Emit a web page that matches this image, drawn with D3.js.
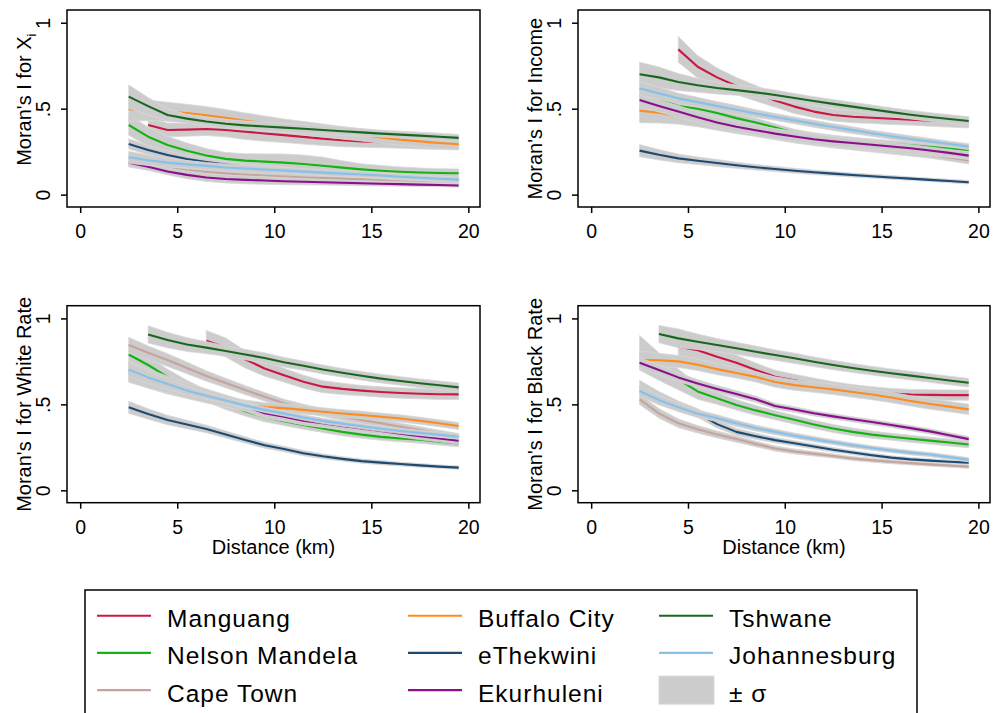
<!DOCTYPE html>
<html>
<head>
<meta charset="utf-8">
<script src="https://cdn.jsdelivr.net/npm/d3@7"></script>
<style>
  html, body { margin: 0; padding: 0; background: #fff; }
  svg { display: block; font-family: "Liberation Sans", Arial, Helvetica, sans-serif; }
</style>
</head>
<body>
<svg id="chart" width="994" height="713"></svg>
<script>
// Distance bands (km) at which Moran's I was computed
const distances = [2.5, 3.5, 4.5, 5.5, 6.5, 7.5, 8.5, 9.5, 10.5, 11.5, 12.5, 13.5, 14.5, 15.5, 16.5, 17.5, 18.5, 19.5];

// Metros, in plotting order (later series are drawn over earlier ones)
const cities = ["Manguang", "Nelson Mandela", "Cape Town", "Buffalo City", "eThekwini", "Ekurhuleni", "Tshwane", "Johannesburg"];

const xTicks = [0, 5, 10, 15, 20];
const yTicks = [0, 0.5, 1];
const yTickLabels = ["0", ".5", "1"];

// Moran's I for X_i: mean and standard deviation per metro (rows follow `cities`)
const xiMean = [
  [null, .405, .376, .378, .382, .376, .366, .356, .346, .336, .326, .316, .31, .305, .30, .296, .293, .29],
  [.405, .337, .289, .255, .228, .208, .198, .192, .186, .178, .168, .157, .147, .139, .133, .129, .126, .124],
  [.19, .17, .155, .142, .132, .123, .116, .11, .105, .10, .097, .093, .09, .087, .084, .081, .078, .075],
  [.497, .49, .482, .475, .462, .447, .43, .415, .40, .386, .373, .36, .347, .333, .32, .31, .30, .293],
  [.295, .26, .23, .207, .19, .175, .163, .152, .143, .134, .126, .119, .112, .106, .10, .095, .09, .085],
  [.185, .162, .135, .115, .10, .091, .086, .082, .078, .075, .072, .069, .066, .063, .061, .058, .056, .053],
  [.57, .515, .463, .442, .425, .412, .403, .396, .39, .383, .376, .369, .362, .355, .349, .343, .337, .33],
  [.217, .20, .186, .176, .167, .158, .152, .146, .14, .134, .128, .122, .117, .111, .104, .098, .092, .087]
];
const xiSd = [
  [null, .04, .04, .038, .038, .04, .045, .045, .043, .042, .04, .037, .034, .032, .03, .03, .03, .03],
  [.06, .055, .05, .045, .04, .037, .04, .045, .05, .052, .05, .04, .032, .03, .028, .026, .025, .025],
  [.03, .028, .025, .022, .02, .02, .02, .02, .02, .02, .02, .02, .02, .02, .02, .02, .02, .02],
  [.07, .06, .055, .05, .05, .048, .045, .043, .04, .04, .038, .036, .035, .034, .033, .032, .032, .032],
  [.03, .027, .024, .022, .02, .018, .017, .016, .015, .015, .015, .015, .014, .014, .014, .014, .014, .014],
  [.02, .02, .02, .022, .023, .023, .023, .022, .02, .018, .016, .015, .014, .013, .012, .011, .01, .01],
  [.068, .05, .035, .025, .025, .025, .025, .025, .025, .025, .025, .025, .022, .02, .02, .02, .02, .02],
  [.035, .03, .025, .022, .02, .02, .02, .02, .018, .018, .018, .017, .017, .016, .016, .015, .015, .015]
];

// Moran's I for income
const incomeMean = [
  [null, null, .845, .744, .682, .632, .59, .548, .512, .483, .463, .453, .447, .441, .436, .43, .425, .42],
  [.58, .555, .516, .50, .475, .445, .42, .39, .36, .34, .326, .314, .304, .295, .287, .278, .268, .26],
  [.53, .50, .465, .435, .41, .385, .362, .342, .323, .306, .292, .28, .268, .256, .244, .232, .216, .198],
  [.488, .477, .455, .43, .405, .383, .365, .345, .325, .31, .298, .287, .277, .266, .255, .244, .232, .22],
  [.256, .232, .211, .197, .184, .171, .159, .149, .139, .13, .122, .114, .107, .10, .093, .086, .079, .072],
  [.55, .516, .483, .45, .42, .395, .375, .355, .338, .322, .31, .30, .29, .28, .27, .257, .243, .227],
  [.70, .682, .655, .636, .62, .608, .595, .58, .562, .545, .528, .512, .496, .48, .465, .452, .44, .428],
  [.618, .589, .56, .538, .516, .494, .472, .452, .432, .412, .393, .375, .357, .34, .324, .309, .294, .279]
];
const incomeSd = [
  [null, null, .075, .065, .055, .05, .045, .04, .04, .035, .035, .035, .033, .033, .032, .032, .032, .032],
  [.04, .035, .03, .028, .025, .025, .025, .022, .02, .02, .02, .02, .02, .02, .02, .02, .02, .02],
  [.04, .035, .03, .028, .025, .025, .022, .022, .02, .02, .02, .02, .02, .02, .02, .02, .02, .02],
  [.07, .06, .045, .035, .03, .028, .026, .025, .024, .023, .022, .022, .021, .02, .018, .016, .015, .015],
  [.035, .03, .025, .022, .02, .018, .016, .015, .014, .013, .012, .012, .011, .011, .01, .01, .01, .01],
  [.04, .035, .035, .03, .03, .03, .03, .03, .03, .03, .03, .025, .025, .022, .02, .02, .02, .02],
  [.07, .06, .05, .04, .035, .03, .03, .028, .026, .025, .025, .025, .025, .025, .025, .025, .025, .025],
  [.04, .035, .03, .028, .025, .025, .022, .02, .02, .02, .02, .02, .018, .018, .018, .018, .017, .017]
];

// Moran's I for the white population rate
const whiteMean = [
  [null, null, null, null, .87, .831, .762, .709, .67, .632, .603, .59, .58, .572, .566, .562, .559, .558],
  [.79, .729, .66, .60, .55, .50, .46, .425, .402, .38, .36, .34, .324, .311, .302, .294, .283, .273],
  [.845, .80, .758, .712, .665, .624, .583, .544, .506, .478, .452, .43, .409, .39, .37, .35, .33, .31],
  [.68, .64, .60, .57, .54, .515, .497, .484, .478, .468, .457, .447, .438, .428, .418, .405, .39, .374],
  [.483, .444, .409, .383, .357, .325, .293, .262, .24, .216, .198, .183, .17, .161, .153, .145, .138, .132],
  [.69, .65, .615, .58, .55, .52, .49, .448, .428, .405, .39, .375, .36, .345, .33, .315, .302, .289],
  [null, .907, .874, .848, .83, .81, .79, .77, .745, .725, .703, .684, .666, .65, .636, .623, .611, .599],
  [.703, .657, .618, .58, .55, .522, .494, .468, .447, .424, .404, .388, .373, .358, .345, .334, .323, .312]
];
const whiteSd = [
  [null, null, null, null, .06, .055, .05, .045, .04, .038, .035, .033, .03, .03, .03, .03, .03, .03],
  [.06, .05, .045, .04, .035, .03, .028, .026, .025, .024, .023, .022, .021, .02, .02, .02, .02, .02],
  [.045, .04, .037, .034, .03, .028, .026, .025, .024, .023, .022, .022, .021, .021, .02, .02, .02, .02],
  [.05, .045, .04, .035, .032, .03, .028, .026, .025, .024, .023, .022, .022, .021, .021, .02, .02, .02],
  [.035, .03, .027, .025, .022, .02, .018, .017, .016, .015, .014, .013, .012, .012, .011, .011, .01, .01],
  [.06, .055, .05, .045, .04, .035, .03, .028, .026, .025, .024, .022, .021, .02, .02, .02, .02, .02],
  [null, .05, .045, .04, .035, .03, .03, .03, .028, .027, .026, .025, .025, .025, .025, .025, .025, .025],
  [.04, .035, .03, .025, .02, .018, .016, .015, .015, .015, .015, .015, .015, .015, .015, .015, .015, .015]
];

// Moran's I for the black population rate
const blackMean = [
  [null, null, .835, .815, .777, .742, .70, .661, .64, .62, .60, .585, .573, .563, .557, .555, .554, .554],
  [.80, .72, .645, .575, .535, .497, .465, .437, .41, .383, .36, .34, .324, .312, .30, .289, .278, .267],
  [.529, .448, .39, .355, .325, .298, .27, .243, .226, .213, .20, .185, .175, .166, .158, .151, .144, .138],
  [.76, .757, .75, .73, .705, .683, .66, .63, .612, .60, .587, .572, .557, .54, .52, .502, .487, .471],
  [.60, .54, .49, .45, .385, .34, .315, .292, .274, .255, .236, .22, .204, .19, .18, .173, .166, .161],
  [.742, .70, .657, .622, .59, .56, .53, .49, .47, .448, .43, .413, .397, .38, .362, .343, .32, .298],
  [null, .909, .884, .864, .845, .826, .806, .787, .768, .748, .729, .712, .696, .681, .667, .653, .639, .626],
  [.578, .525, .483, .445, .42, .39, .362, .34, .318, .298, .28, .262, .246, .232, .219, .208, .193, .178]
];
const blackSd = [
  [null, null, .06, .055, .05, .045, .04, .038, .035, .033, .032, .03, .03, .03, .03, .03, .03, .03],
  [.10, .08, .06, .045, .035, .03, .028, .026, .025, .024, .023, .022, .021, .02, .02, .02, .02, .02],
  [.03, .028, .025, .022, .02, .018, .016, .015, .014, .013, .012, .012, .011, .011, .01, .01, .01, .01],
  [.05, .04, .035, .033, .032, .03, .03, .03, .03, .03, .03, .03, .03, .03, .03, .03, .03, .03],
  [.04, .035, .03, .025, .022, .02, .018, .016, .015, .014, .013, .012, .012, .011, .011, .01, .01, .01],
  [.03, .028, .025, .022, .02, .02, .018, .017, .016, .015, .015, .015, .015, .015, .015, .015, .015, .015],
  [null, .05, .055, .045, .038, .035, .033, .03, .03, .028, .027, .026, .025, .025, .025, .025, .025, .025],
  [.03, .028, .025, .022, .02, .018, .017, .016, .015, .015, .014, .014, .013, .013, .013, .012, .012, .012]
];

// Styling
const cityColors = ["#cc1744", "#12b412", "#c6a39b", "#ff8a1e", "#1c4a73", "#8a0f8a", "#17681c", "#86c1ec"];
const bandFill = "#cccccc";
const bandEdge = "#d8d8d8";
const fontSize = 19.5;

const svg = d3.select("#chart");

const panels = [
  { mean: xiMean,     sd: xiSd,     box: [67, 10, 480, 207],       title: ["Moran's I for X", "i"], titleShift: -9, xTitle: false },
  { mean: incomeMean, sd: incomeSd, box: [578, 10, 990, 207],      title: ["Moran's I for Income"], titleShift: 0, xTitle: false },
  { mean: whiteMean,  sd: whiteSd,  box: [67, 305.7, 480, 502.7],  title: ["Moran's I for White Rate"], titleShift: 0, xTitle: true },
  { mean: blackMean,  sd: blackSd,  box: [578, 305.7, 990, 502.7], title: ["Moran's I for Black Rate"], titleShift: 0, xTitle: true }
];

panels.forEach(p => {
  const [bx0, by0, bx1, by1] = p.box;
  const x = d3.scaleLinear().domain([-0.68, 20.6]).range([bx0, bx1]);
  const y = d3.scaleLinear().domain([-0.072, 1.074]).range([by1, by0]);
  const g = svg.append("g");

  const area = d3.area()
    .defined(d => d.m != null)
    .x(d => x(d.d))
    .y0(d => y(d.m - d.s))
    .y1(d => y(d.m + d.s));
  const line = d3.line()
    .defined(d => d.m != null)
    .x(d => x(d.d))
    .y(d => y(d.m));

  // each metro: ±σ band first, then its mean line
  cities.forEach((c, i) => {
    const pts = distances.map((d, k) => ({ d, m: p.mean[i][k], s: p.sd[i][k] }));
    g.append("path")
      .attr("d", area(pts))
      .attr("fill", bandFill)
      .attr("stroke", bandEdge)
      .attr("stroke-width", 0.8);
    g.append("path")
      .attr("d", line(pts))
      .attr("fill", "none")
      .attr("stroke", cityColors[i])
      .attr("stroke-width", 2.1)
      .attr("stroke-linejoin", "round");
  });

  // frame
  g.append("rect")
    .attr("x", bx0).attr("y", by0)
    .attr("width", bx1 - bx0).attr("height", by1 - by0)
    .attr("fill", "none").attr("stroke", "#000").attr("stroke-width", 1.5);

  // x axis
  const xAxis = d3.axisBottom(x).tickValues(xTicks).tickSize(6).tickPadding(11).tickFormat(d3.format("d"));
  const xg = g.append("g").attr("transform", `translate(0,${by1})`).call(xAxis);
  xg.select(".domain").remove();
  xg.selectAll(".tick line").attr("stroke", "#000").attr("stroke-width", 1.5);
  xg.selectAll(".tick text").attr("font-size", fontSize).attr("fill", "#000")
    .attr("font-family", "Liberation Sans, Arial, sans-serif");

  // y axis with rotated labels
  const yAxis = d3.axisLeft(y).tickValues(yTicks).tickSize(6).tickFormat((d, i) => yTickLabels[i]);
  const yg = g.append("g").attr("transform", `translate(${bx0},0)`).call(yAxis);
  yg.select(".domain").remove();
  yg.selectAll(".tick line").attr("stroke", "#000").attr("stroke-width", 1.5);
  yg.selectAll(".tick text")
    .attr("font-size", fontSize).attr("fill", "#000")
    .attr("font-family", "Liberation Sans, Arial, sans-serif")
    .attr("x", null).attr("dy", null)
    .attr("text-anchor", "middle")
    .attr("transform", "translate(-17,0) rotate(-90)");

  // y title
  const ty = (y(0) + y(1)) / 2 + p.titleShift;
  const tt = g.append("text")
    .attr("transform", `translate(${bx0 - 36},${ty}) rotate(-90)`)
    .attr("text-anchor", "middle")
    .attr("font-size", 20)
    .attr("fill", "#000");
  tt.append("tspan").text(p.title[0]);
  if (p.title[1]) {
    tt.append("tspan").attr("font-size", 13).attr("dy", 5).text(p.title[1]);
  }

  if (p.xTitle) {
    g.append("text")
      .attr("x", (bx0 + bx1) / 2)
      .attr("y", by1 + 51)
      .attr("text-anchor", "middle")
      .attr("font-size", 20)
      .attr("fill", "#000")
      .text("Distance (km)");
  }
});

// Legend
const legend = svg.append("g");
legend.append("rect")
  .attr("x", 85).attr("y", 590)
  .attr("width", 832).attr("height", 140)
  .attr("fill", "#fff").attr("stroke", "#000").attr("stroke-width", 1.5);

const colX = [97, 408, 659];
const rowY = [615.7, 652.9, 690.1];
const legendItems = cities.map((c, i) => ({ label: c, color: cityColors[i] }));
legendItems.push({ label: "± σ", band: true });

legendItems.forEach((it, i) => {
  const cx = colX[Math.floor(i / 3)];
  const cy = rowY[i % 3];
  if (it.band) {
    legend.append("rect")
      .attr("x", cx).attr("y", cy - 14)
      .attr("width", 55).attr("height", 28)
      .attr("fill", bandFill).attr("stroke", bandEdge).attr("stroke-width", 1);
  } else {
    legend.append("line")
      .attr("x1", cx).attr("x2", cx + 54)
      .attr("y1", cy).attr("y2", cy)
      .attr("stroke", it.color).attr("stroke-width", 2.1);
  }
  legend.append("text")
    .attr("x", cx + 70)
    .attr("y", cy + 11.5)
    .attr("font-size", 24.5)
    .attr("letter-spacing", 1)
    .attr("fill", "#000")
    .text(it.label);
});
</script>
</body>
</html>
